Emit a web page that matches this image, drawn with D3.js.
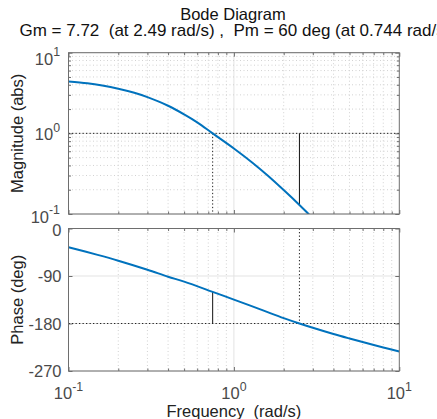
<!DOCTYPE html>
<html>
<head>
<meta charset="utf-8">
<script src="https://cdn.jsdelivr.net/npm/d3@7"></script>
<style>
  body { margin: 0; background: #fff; }
  svg { display: block; }
  text { font-family: "Liberation Sans", Arial, Helvetica, sans-serif; white-space: pre; }
</style>
</head>
<body>
<svg width="437" height="419"></svg>
<script>
// values
var magFreq = [0.1, 0.13, 0.16, 0.2, 0.25, 0.3, 0.4, 0.5, 0.6, 0.744, 1.0, 1.3, 1.6, 2.0, 2.49, 2.8, 3.2];
var magValues = [4.40, 4.17, 3.91, 3.57, 3.18, 2.81, 2.20, 1.72, 1.37, 1.0, 0.65, 0.43, 0.30, 0.198, 0.1295, 0.102, 0.077];
var phaseFreq = [0.1, 0.15, 0.2, 0.3, 0.4, 0.5, 0.744, 1.0, 1.5, 2.0, 2.49, 3, 4, 5, 6, 8, 10];
var phaseValues = [-35.6, -50.0, -61.0, -78.1, -91.3, -100.6, -120, -134.7, -155.2, -169.8, -180, -188.1, -199.9, -208.4, -215.1, -225.3, -232.9];

var freqTicks = [0.1, 1, 10];
var freqTickExp = ["-1", "0", "1"];
var magTicks = [0.1, 1, 10];
var magTickExp = ["-1", "0", "1"];
var phaseTicks = [0, -90, -180, -270];

var gmFreq = 2.49, gmValue = 7.72;
var pmFreq = 0.744, pmValue = 60;

var titleText = "Bode Diagram";
var subtitleText = "Gm = 7.72  (at 2.49 rad/s) ,  Pm = 60 deg (at 0.744 rad/s)";
var xLabel = "Frequency  (rad/s)";
var magLabel = "Magnitude (abs)";
var phaseLabel = "Phase (deg)";

var svg = d3.select("svg");
var left = 68.5, right = 399.3;
var fs = 16.5;
var axisColor = "#6e6e6e",
    lineColor = "#0072bd";

var x = d3.scaleLog().domain([0.1, 10]).range([left, right]);
var yMag = d3.scaleLog().domain([0.1, 10]).range([214, 52.7]);
var yPh = d3.scaleLinear().domain([-270, 0]).range([371, 228.5]);

var minor = [];
[0.1, 1].forEach(function(d) { for (var k = 2; k <= 9; k++) minor.push(k * d); });

function label(sel, px, py, base, sup, anchor, size, color) {
  var t = sel.append("text")
      .attr("x", px).attr("y", py)
      .attr("text-anchor", anchor)
      .attr("font-size", size)
      .attr("fill", color);
  t.append("tspan").text(base);
  if (sup != null) t.append("tspan").attr("dy", -8.5).attr("font-size", size * 0.75).text(sup);
  return t;
}

function hline(g, y, x0, x1, color, dash, w) {
  g.append("line").attr("x1", x0).attr("x2", x1).attr("y1", y).attr("y2", y)
    .attr("stroke", color).attr("stroke-width", w || 1).attr("stroke-dasharray", dash || null);
}
function vline(g, xx, y0, y1, color, dash, w) {
  g.append("line").attr("x1", xx).attr("x2", xx).attr("y1", y0).attr("y2", y1)
    .attr("stroke", color).attr("stroke-width", w || 1).attr("stroke-dasharray", dash || null);
}

function ticks(g, axisFn, scale, values, size, tr) {
  g.append("g").attr("transform", tr)
    .call(axisFn(scale).tickValues(values).tickSize(size).tickSizeOuter(0).tickFormat(""))
    .call(function(a) {
      a.select(".domain").remove();
      a.selectAll("text").remove();
      a.selectAll("line").attr("stroke", axisColor);
    });
}

function panel(id, yScale, yMajor, yMinor) {
  var r = yScale.range(), bot = r[0], top = r[1];
  var g = svg.append("g");

  svg.append("clipPath").attr("id", id).append("rect")
    .attr("x", left).attr("y", top).attr("width", right - left).attr("height", bot - top);

  // grid
  minor.forEach(function(f) { vline(g, x(f), top, bot, "#d2d2d2", "1,2.5"); });
  vline(g, x(1), top, bot, "#e3e3e3");
  yMinor.forEach(function(v) { hline(g, yScale(v), left, right, "#d2d2d2", "1,2.5"); });
  yMajor.forEach(function(v) { hline(g, yScale(v), left, right, "#e3e3e3"); });

  // ticks on all four sides, pointing in
  ticks(g, d3.axisBottom, x, freqTicks, -4, "translate(0," + bot + ")");
  ticks(g, d3.axisBottom, x, minor, -2.5, "translate(0," + bot + ")");
  ticks(g, d3.axisTop, x, freqTicks, -4, "translate(0," + top + ")");
  ticks(g, d3.axisTop, x, minor, -2.5, "translate(0," + top + ")");
  ticks(g, d3.axisLeft, yScale, yMajor, -4, "translate(" + left + ",0)");
  ticks(g, d3.axisRight, yScale, yMajor, -4, "translate(" + right + ",0)");
  if (yMinor.length) {
    ticks(g, d3.axisLeft, yScale, yMinor, -2.5, "translate(" + left + ",0)");
    ticks(g, d3.axisRight, yScale, yMinor, -2.5, "translate(" + right + ",0)");
  }
  return g;
}

// magnitude panel
var gMag = panel("clipMag", yMag, magTicks, minor);
hline(gMag, yMag(1), left, right, "#222", "1.3,2.2");
vline(gMag, x(pmFreq), yMag(1), yMag(0.1), "#222", "1.3,2.2");
vline(gMag, x(gmFreq), yMag(1), yMag(1 / gmValue), "#111");

gMag.append("path")
    .datum(d3.zip(magFreq, magValues))
    .attr("clip-path", "url(#clipMag)")
    .attr("fill", "none")
    .attr("stroke", lineColor)
    .attr("stroke-width", 2)
    .attr("d", d3.line().x(function(d) { return x(d[0]); }).y(function(d) { return yMag(d[1]); })
      .curve(d3.curveCatmullRom));

gMag.append("rect").attr("x", left).attr("y", yMag(10)).attr("width", right - left)
    .attr("height", yMag(0.1) - yMag(10)).attr("fill", "none").attr("stroke", axisColor);

// phase panel
var gPh = panel("clipPh", yPh, phaseTicks, []);
hline(gPh, yPh(-180), left, right, "#222", "1.3,2.2");
vline(gPh, x(gmFreq), yPh(0), yPh(-180), "#222", "1.3,2.2");
vline(gPh, x(pmFreq), yPh(-180), yPh(-180 + pmValue), "#111");

gPh.append("path")
    .datum(d3.zip(phaseFreq, phaseValues))
    .attr("clip-path", "url(#clipPh)")
    .attr("fill", "none")
    .attr("stroke", lineColor)
    .attr("stroke-width", 2)
    .attr("d", d3.line().x(function(d) { return x(d[0]); }).y(function(d) { return yPh(d[1]); })
      .curve(d3.curveCatmullRom));

gPh.append("rect").attr("x", left).attr("y", yPh(0)).attr("width", right - left)
    .attr("height", yPh(-270) - yPh(0)).attr("fill", "none").attr("stroke", axisColor);

// tick labels (the label at the top of each panel sits a little lower)
var tickColor = "#4a4a4a";
magTicks.forEach(function(v, i) {
  var nudge = v === 10 ? 5 : (v === 0.1 ? 1.5 : 0);
  label(svg, 60, yMag(v) + 7 + nudge, "10", magTickExp[i], "end", fs, tickColor);
});
phaseTicks.forEach(function(v) {
  var nudge = v === 0 ? 1.5 : 0;
  label(svg, 61.5, yPh(v) + 6 + nudge, String(v), null, "end", fs, tickColor);
});
freqTicks.forEach(function(v, i) { label(svg, x(v), 399, "10", freqTickExp[i], "middle", fs, tickColor); });

// titles and axis labels
var mid = (left + right) / 2;
label(svg, mid - 1, 19.5, titleText, null, "middle", fs, "#111");
label(svg, mid + 1, 36, subtitleText, null, "middle", 17, "#111");
label(svg, mid, 417, xLabel, null, "middle", fs, "#222");

svg.append("text")
    .attr("transform", "translate(23," + ((yMag(10) + yMag(0.1)) / 2) + ") rotate(-90)")
    .attr("text-anchor", "middle").attr("font-size", fs).attr("fill", "#222")
    .text(magLabel);
svg.append("text")
    .attr("transform", "translate(23," + ((yPh(0) + yPh(-270)) / 2) + ") rotate(-90)")
    .attr("text-anchor", "middle").attr("font-size", fs).attr("fill", "#222")
    .text(phaseLabel);
</script>
</body>
</html>
